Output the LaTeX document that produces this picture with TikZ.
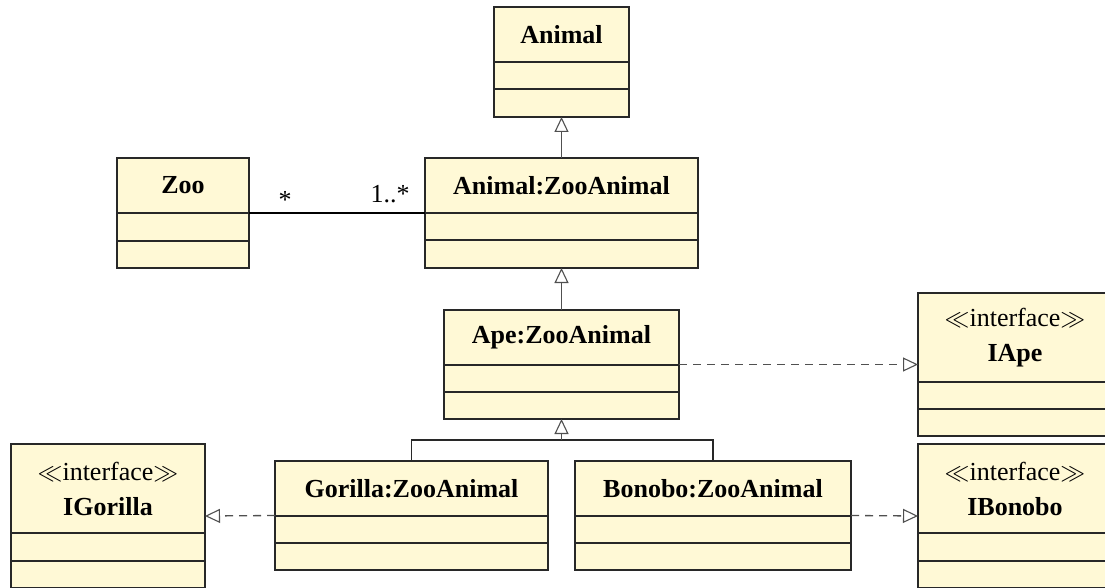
\documentclass[tikz,border=0pt]{standalone}
\usepackage{fontspec}
\setmainfont{Liberation Serif}
\usetikzlibrary{arrows.meta}
\definecolor{classfill}{RGB}{255,249,214}
\definecolor{edge}{RGB}{40,40,40}
\definecolor{link}{RGB}{80,80,80}
\tikzset{
  cls/.style={draw=edge, fill=classfill, line width=1.2pt, rectangle, inner sep=0pt, outer sep=0pt},
  sep/.style={draw=edge, line width=1.1pt},
  ttl/.style={font=\fontsize{26}{35}\selectfont\bfseries, align=center, inner sep=0pt},
  mult/.style={font=\fontsize{26}{30}\selectfont, inner sep=0pt, anchor=base},
  inherit/.style={draw=link, line width=1.3pt, -{Triangle[open, length=15pt, width=14pt, line width=1.1pt]}},
  realize/.style={inherit, dash pattern=on 8pt off 6pt},
  assoc/.style={draw=black, line width=1.2pt},
  branch/.style={draw=edge, line width=1.3pt},
}
% \umlbox{name}{cx}{cy}{width}{height}{title height}{attribute height}{title}
\newcommand\umlbox[8]{%
  \node[cls, minimum width=#4pt, minimum height=#5pt] (#1) at (#2,#3) {};
  \node[ttl] (#1-title) at ([yshift=-0.5*#6pt]#1.north) {#8};
  \draw[sep] ([yshift=-#6pt]#1.north west) -- ([yshift=-#6pt]#1.north east);
  \draw[sep] ([yshift=-#6pt-#7pt]#1.north west) -- ([yshift=-#6pt-#7pt]#1.north east);
}
\newcommand\iface[1]{{\mdseries$\ll$interface$\gg$}\\#1}
\begin{document}
\begin{tikzpicture}[x=1pt, y=-1pt]
\useasboundingbox (0,0) rectangle (1105,588);
\clip (0,0) rectangle (1105,588);

\umlbox{animal}{561.5}{62}{135}{110}{55}{27}{Animal}
\umlbox{zooanimal}{561.5}{213}{273}{110}{55}{27}{Animal:ZooAnimal}
\umlbox{zoo}{183}{213}{132}{110}{55}{28}{Zoo}
\umlbox{ape}{561.5}{364.5}{235}{109}{55}{27}{Ape:ZooAnimal}
\umlbox{iape}{1015}{364.5}{194}{143}{89}{27}{\iface{IApe}}
\umlbox{gorilla}{411.5}{515.5}{273}{109}{55}{27}{Gorilla:ZooAnimal}
\umlbox{bonobo}{713}{515.5}{276}{109}{55}{27}{Bonobo:ZooAnimal}
\umlbox{igorilla}{108}{516}{194}{144}{89}{28}{\iface{IGorilla}}
\umlbox{ibonobo}{1015}{516}{194}{144}{89}{28}{\iface{IBonobo}}

% generalisations
\draw[inherit] (zooanimal.north) -- (animal.south);
\draw[inherit] (ape.north) -- (zooanimal.south);
\coordinate (fork) at (561.5,440);
\draw[branch] (gorilla.north) |- (fork);
\draw[branch] (bonobo.north) |- (fork);
\draw[inherit] (fork) -- (ape.south);

% realisations
\draw[realize] (ape.east) -- (iape.west);
\draw[realize] (gorilla.west) -- (igorilla.east);
\draw[realize] (bonobo.east) -- (ibonobo.west);

% association with multiplicities
\draw[assoc] (zoo.east) -- (zooanimal.west);
\node[mult] (m-zoo) at (285,208) {*};
\node[mult] (m-animal) at (390,203) {1..*};
\end{tikzpicture}
\end{document}
